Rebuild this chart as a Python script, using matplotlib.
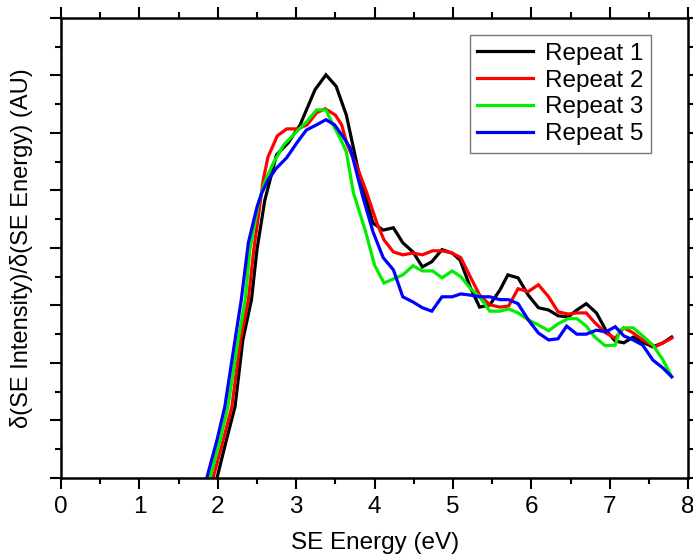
import matplotlib
matplotlib.use("Agg")
import matplotlib.pyplot as plt
from matplotlib.ticker import MultipleLocator

plt.rcParams["font.family"] = ["Liberation Sans", "DejaVu Sans"]

# Repeat 1
x1 = [1.99, 2.11, 2.22, 2.32, 2.43, 2.50, 2.60, 2.75, 2.90, 3.05, 3.24, 3.38, 3.51,
      3.64, 3.80, 3.98, 4.11, 4.24, 4.36, 4.49, 4.61, 4.73, 4.86, 4.99, 5.09,
      5.22, 5.34, 5.47, 5.60, 5.70, 5.83, 5.96, 6.09, 6.22, 6.34, 6.47, 6.58,
      6.70, 6.83, 6.95, 7.07, 7.18, 7.30, 7.42, 7.55, 7.68, 7.79]
y1 = [0.0, 0.66, 1.24, 2.40, 3.10, 3.97, 4.83, 5.62, 5.83, 6.14, 6.75, 7.01, 6.81,
      6.31, 5.30, 4.43, 4.31, 4.35, 4.09, 3.93, 3.67, 3.76, 3.97, 3.91, 3.79,
      3.32, 2.97, 3.01, 3.27, 3.53, 3.48, 3.18, 2.96, 2.92, 2.82, 2.80, 2.92,
      3.03, 2.87, 2.57, 2.38, 2.35, 2.45, 2.36, 2.28, 2.35, 2.45]

# Repeat 2
x2 = [1.94, 2.07, 2.18, 2.29, 2.39, 2.46, 2.58, 2.64, 2.76, 2.88, 3.02, 3.14, 3.26,
      3.37, 3.50, 3.58, 3.65, 3.78, 3.90, 4.03, 4.12, 4.24, 4.36, 4.49, 4.61,
      4.74, 4.86, 4.99, 5.10, 5.22, 5.34, 5.47, 5.60, 5.71, 5.83, 5.96, 6.09,
      6.22, 6.34, 6.47, 6.58, 6.70, 6.81, 6.95, 7.07, 7.18, 7.30, 7.42, 7.58,
      7.68, 7.79]
y2 = [0.0, 0.66, 1.24, 2.40, 3.10, 3.97, 5.18, 5.58, 5.95, 6.07, 6.07, 6.14, 6.35,
      6.42, 6.31, 6.14, 5.80, 5.40, 4.96, 4.43, 4.14, 3.93, 3.88, 3.91, 3.88,
      3.95, 3.95, 3.91, 3.83, 3.50, 3.18, 3.01, 2.97, 2.99, 3.29, 3.24, 3.36,
      3.15, 2.89, 2.85, 2.87, 2.87, 2.70, 2.52, 2.43, 2.61, 2.52, 2.40, 2.28,
      2.35, 2.43]

# Repeat 3
x3 = [1.90, 2.03, 2.13, 2.26, 2.35, 2.41, 2.52, 2.60, 2.71, 2.84, 2.99, 3.13, 3.26,
      3.38, 3.47, 3.56, 3.64, 3.73, 3.88, 4.00, 4.12, 4.24, 4.36, 4.49, 4.61,
      4.74, 4.86, 4.99, 5.10, 5.22, 5.34, 5.47, 5.60, 5.71, 5.83, 5.96, 6.09,
      6.22, 6.34, 6.47, 6.58, 6.70, 6.81, 6.94, 7.07, 7.13, 7.19, 7.30, 7.42,
      7.55, 7.68, 7.79]
y3 = [0.0, 0.66, 1.24, 2.40, 3.10, 3.97, 4.78, 5.15, 5.48, 5.79, 6.00, 6.19, 6.40,
      6.40, 6.14, 5.91, 5.67, 4.96, 4.31, 3.70, 3.39, 3.46, 3.53, 3.69, 3.60,
      3.60, 3.48, 3.60, 3.50, 3.30, 3.15, 2.90, 2.90, 2.94, 2.87, 2.75, 2.66,
      2.56, 2.68, 2.77, 2.77, 2.64, 2.45, 2.30, 2.31, 2.57, 2.61, 2.61, 2.47,
      2.31, 2.05, 1.76]

# Repeat 5
x5 = [1.86, 1.99, 2.09, 2.22, 2.30, 2.39, 2.50, 2.56, 2.64, 2.75, 2.88, 3.01, 3.13,
      3.26, 3.38, 3.49, 3.60, 3.69, 3.85, 3.98, 4.11, 4.24, 4.36, 4.49, 4.61,
      4.73, 4.86, 4.99, 5.10, 5.22, 5.34, 5.47, 5.60, 5.71, 5.83, 5.96, 6.09,
      6.22, 6.34, 6.45, 6.58, 6.70, 6.83, 6.95, 7.07, 7.18, 7.30, 7.42, 7.55,
      7.68, 7.79]
y5 = [0.0, 0.66, 1.24, 2.40, 3.10, 4.09, 4.71, 4.95, 5.18, 5.39, 5.57, 5.83, 6.05,
      6.14, 6.23, 6.14, 5.93, 5.74, 4.89, 4.28, 3.83, 3.62, 3.15, 3.06, 2.96,
      2.90, 3.15, 3.15, 3.20, 3.18, 3.15, 3.15, 3.10, 3.10, 3.03, 2.75, 2.52,
      2.40, 2.42, 2.64, 2.50, 2.50, 2.57, 2.54, 2.63, 2.47, 2.40, 2.31, 2.05,
      1.91, 1.76]

series = [(x1, y1, "black", "Repeat 1"),
          (x2, y2, "#ff0000", "Repeat 2"),
          (x3, y3, "#00ee00", "Repeat 3"),
          (x5, y5, "#0000ff", "Repeat 5")]

fig = plt.figure(figsize=(6.93, 5.59), dpi=100)
ax = fig.add_axes([0.088, 0.145, 0.905, 0.823])

for x, y, c, lab in series:
    ax.plot(x, y, color=c, lw=2.3, label=lab, solid_joinstyle="miter")

ax.set_xlim(0, 8)
ax.set_ylim(0, 8)
ax.xaxis.set_major_locator(MultipleLocator(1))
ax.xaxis.set_minor_locator(MultipleLocator(0.5))
ax.yaxis.set_major_locator(MultipleLocator(1))
ax.yaxis.set_minor_locator(MultipleLocator(0.5))
ax.tick_params(which="both", direction="out", top=True, right=True, width=1.5,
               labelsize=17.5, labelleft=False, pad=5)
ax.tick_params(which="major", length=8)
ax.tick_params(which="minor", length=4)
for s in ax.spines.values():
    s.set_linewidth(1.8)

ax.set_xlabel("SE Energy (eV)", fontsize=17.5, labelpad=10)
ax.set_ylabel("δ(SE Intensity)/δ(SE Energy) (AU)", fontsize=17, labelpad=12)

leg = ax.legend(loc="upper right", bbox_to_anchor=(0.94, 0.962), fontsize=17.5,
                frameon=True, fancybox=False, handlelength=2.3,
                labelspacing=0.2, borderpad=0.3, handletextpad=0.5,
                borderaxespad=0)
leg.get_frame().set_edgecolor("#555555")
leg.get_frame().set_linewidth(1.0)

plt.savefig("out.png", dpi=100)
